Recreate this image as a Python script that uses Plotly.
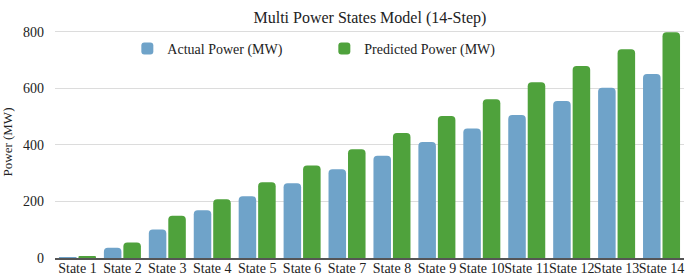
import plotly.graph_objects as go

states = [f"State {i}" for i in range(1, 15)]
actual_power = [2, 36, 101, 169, 218, 264, 314, 361, 410, 458, 505, 555, 602, 650]
predicted_power = [4, 55, 149, 208, 268, 327, 384, 442, 502, 561, 621, 679, 738, 798]
y_ticks = [0, 200, 400, 600, 800]

FONT = "Liberation Serif, Times New Roman, serif"

fig = go.Figure()
fig.add_trace(go.Bar(x=states, y=actual_power, name="Actual Power (MW)",
                     marker=dict(color="#6fa3c9", line=dict(width=0))))
fig.add_trace(go.Bar(x=states, y=predicted_power, name="Predicted Power (MW)",
                     marker=dict(color="#4fa23c", line=dict(width=0))))

W, H = 685, 278
left, right_px = 54.5, 684.5
zero_y, top800_y = 257.7, 31.7
ppu = (zero_y - top800_y) / 800
ymax = 820
top = zero_y - ymax * ppu

fig.update_layout(
    width=W, height=H,
    margin=dict(l=left, r=W - right_px, t=top, b=H - zero_y, autoexpand=False),
    paper_bgcolor="white", plot_bgcolor="white",
    font=dict(family=FONT, size=14, color="#222222"),
    title=dict(text="Multi Power States Model (14-Step)", x=0.54, xanchor="center",
               y=1 - 17 / H, yanchor="middle", yref="container",
               font=dict(family=FONT, size=16, color="#222222")),
    barmode="group", bargap=0.133, bargroupgap=0.1, barcornerradius=4,
    legend=dict(orientation="h", x=0.115, xanchor="left", y=1 - (49 - top) / (zero_y - top),
                yanchor="middle", bgcolor="rgba(0,0,0,0)",
                font=dict(family=FONT, size=14, color="#222222"),
                entrywidth=152, entrywidthmode="pixels", itemwidth=30),
    showlegend=True,
)
fig.update_xaxes(showline=True, linecolor="#555555", linewidth=2, ticks="", tickangle=0,
                 ticklabelstandoff=-4,
                 tickfont=dict(family=FONT, size=14, color="#222222"), fixedrange=True)
fig.update_yaxes(range=[0, ymax], tickvals=y_ticks, showgrid=True, gridcolor="#dcdcdc",
                 gridwidth=1, zeroline=False, ticks="", ticklabelstandoff=10,
                 tickfont=dict(family=FONT, size=14, color="#222222"), fixedrange=True,
                 title=dict(text="Power (MW)", standoff=12,
                            font=dict(family=FONT, size=13, color="#222222")))

fig.write_html("out.html", config={"displayModeBar": False},
               post_script="document.body.style.margin='0';document.body.style.overflow='hidden';")
